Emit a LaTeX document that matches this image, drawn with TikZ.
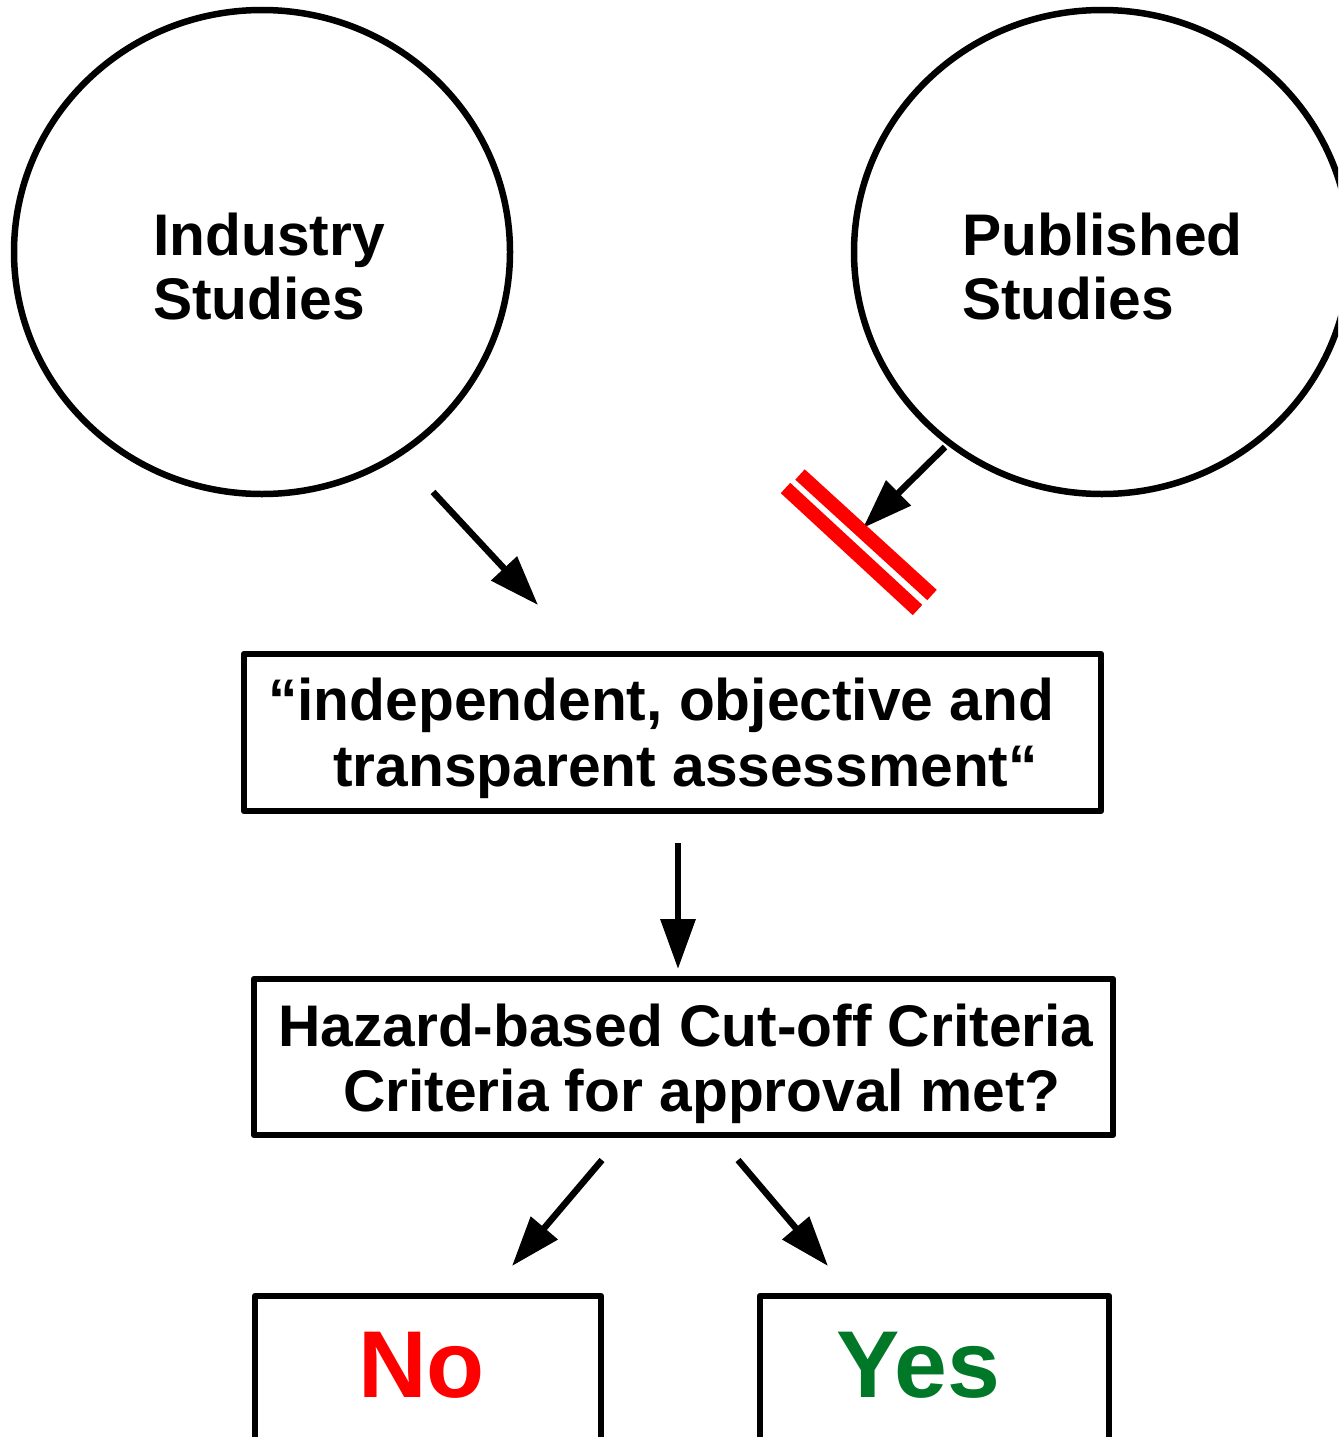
\documentclass[tikz,border=0pt]{standalone}
\usepackage{fontspec}
\setmainfont{Liberation Sans}
\usetikzlibrary{arrows.meta,shapes.geometric}
\definecolor{yesgreen}{RGB}{0,120,40}
\definecolor{nored}{RGB}{255,0,0}
\tikzset{
  circ/.style={draw=black, line width=6.5pt, ellipse, minimum width=496pt, minimum height=484pt, inner sep=0pt},
  boxn/.style={draw=black, line width=6.5pt, rectangle, line join=round, inner sep=0pt},
  txt/.style={anchor=base west, inner sep=0pt, font=\fontsize{58.7}{64}\selectfont\bfseries},
  bigtxt/.style={anchor=base west, inner sep=0pt, font=\fontsize{95}{100}\selectfont\bfseries},
  arr/.style={line width=6.5pt, -{Triangle[length=50pt,width=34pt]}},
  bar/.style={line width=14pt, nored}
}
\begin{document}
\begin{tikzpicture}[x=1pt,y=-1pt]
\clip (0,0) rectangle (1338,1437);
\fill[white] (0,0) rectangle (1338,1437);
% circles
\node[circ] (ind) at (262,252) {};
\node[circ] (pub) at (1102,252) {};
\node[txt] (indA) at (153,255) {Industry};
\node[txt] (indB) at (153,319) {Studies};
\node[txt] (pubA) at (962,255) {Published};
\node[txt] (pubB) at (962,319) {Studies};
% box 1
\node[boxn, minimum width=857pt, minimum height=157pt] (assess) at (672.5,732.5) {};
\node[txt] (asA) at (268,720) {“independent, objective and};
\node[txt] (asB) at (333,786) {transparent assessment“};
% box 2
\node[boxn, minimum width=859pt, minimum height=156pt] (crit) at (683.5,1057) {};
\node[txt] (crA) at (278,1046) {Hazard-based Cut-off Criteria};
\node[txt] (crB) at (343,1111) {Criteria for approval met?};
% result boxes
\node[boxn, minimum width=346pt, minimum height=180pt] (no) at (428,1386) {};
\node[boxn, minimum width=349pt, minimum height=180pt] (yes) at (934.5,1386) {};
\node[bigtxt, text=nored] (noT) at (358,1397) {No};
\node[bigtxt, text=yesgreen] (yesT) at (836,1397) {Yes};
% arrow coordinates
\coordinate (a1s) at (433,492);
\coordinate (a1e) at (538,605);
\coordinate (a2s) at (945,447);
\coordinate (a2e) at (863,528);
\coordinate (a3s) at (678,843);
\coordinate (a3e) at (678,969);
\coordinate (a4s) at (602,1160);
\coordinate (a4e) at (512,1266);
\coordinate (a5s) at (738,1160);
\coordinate (a5e) at (828,1266);
\draw[arr] (a1s) -- (a1e);
\draw[arr] (a2s) -- (a2e);
\draw[arr] (a3s) -- (a3e);
\draw[arr] (a4s) -- (a4e);
\draw[arr] (a5s) -- (a5e);
% red block bars
\coordinate (b1s) at (785.5,488);
\coordinate (b1e) at (917.5,610);
\coordinate (b2s) at (800,474.5);
\coordinate (b2e) at (932,595);
\draw[bar] (b1s) -- (b1e);
\draw[bar] (b2s) -- (b2e);
\end{tikzpicture}
\end{document}
